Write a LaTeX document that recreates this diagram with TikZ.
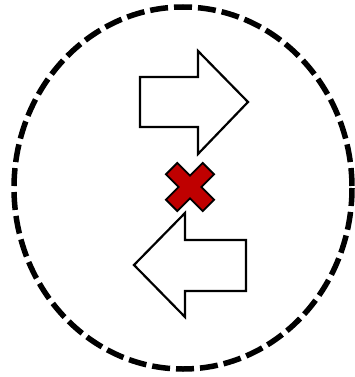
\documentclass[tikz,border=0pt]{standalone}
\begin{document}
\begin{tikzpicture}[x=1pt,y=-1pt,
  arrowshape/.style={draw=black,fill=white,line width=2.2pt,line join=miter},
  ring/.style={draw=black,line width=5.5pt,dash pattern=on 18pt off 6pt},
  crossmark/.style={draw=black,fill=red!75!black,line width=1.8pt,line join=miter}]
\useasboundingbox (0,0) rectangle (354,377);
% dashed circle
\draw[ring] (183,188) ellipse [x radius=169, y radius=181];
% right arrow
\draw[arrowshape] (140,77) -- (198,77) -- (198,51) -- (248,102) -- (198,154) -- (198,127) -- (140,127) -- cycle;
% left arrow
\draw[arrowshape] (246,240) -- (185,240) -- (185,213) -- (134,265) -- (185,317) -- (185,291) -- (246,291) -- cycle;
% red cross
\begin{scope}[shift={(190,187)},rotate=45]
\draw[crossmark] (8,8) -- (26,8) -- (26,-8) -- (8,-8) -- (8,-26) -- (-8,-26) -- (-8,-8) -- (-26,-8) -- (-26,8) -- (-8,8) -- (-8,26) -- (8,26) -- cycle;
\end{scope}
\end{tikzpicture}
\end{document}
